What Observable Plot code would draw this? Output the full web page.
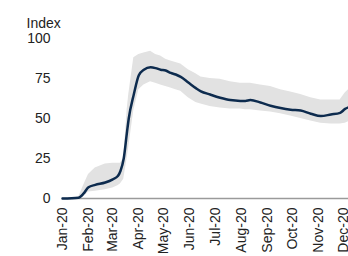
<!DOCTYPE html>
<html>
<head>
<meta charset="utf-8">
<script src="https://cdn.jsdelivr.net/npm/d3@7"></script>
<script src="https://cdn.jsdelivr.net/npm/@observablehq/plot@0.6"></script>
<style>
  html, body { margin: 0; padding: 0; background: #fff; }
  #chart { width: 348px; height: 256px; overflow: hidden; }
</style>
</head>
<body>
<div id="chart"></div>
<script>
const dates = ["2020-01-01","2020-01-20","2020-01-26","2020-02-01","2020-02-09","2020-02-21","2020-03-01","2020-03-07","2020-03-10","2020-03-14","2020-03-18","2020-03-20","2020-03-26","2020-04-01","2020-04-07","2020-04-15","2020-04-21","2020-04-27","2020-05-03","2020-05-09","2020-05-15","2020-05-21","2020-05-30","2020-06-08","2020-06-14","2020-06-25","2020-07-07","2020-07-19","2020-07-31","2020-08-06","2020-08-12","2020-08-24","2020-09-05","2020-09-17","2020-09-29","2020-10-11","2020-10-23","2020-11-04","2020-11-16","2020-11-27","2020-12-03","2020-12-07"];
const index = [0,0.5,3,7,8.5,10,12,14,17,25,42,50,65,77,80.5,82,81.5,80.5,80,78.5,77.5,76,72.5,69,67,65,63,61.5,61,61,61.5,60,58,56.5,55.5,55,53,51.5,52.5,53.5,56,57];
const lower = [0,0,1,4,4.5,5.5,6.5,8,9,12,25,32,55,68,71,73,72,71,70,69,68,67,63,60,59,57.5,56.5,56,56,55.5,55.5,54.7,54,53,51.5,50,48.5,47,46.5,46.5,47,48];
const upper = [0,0.5,8,15,19,21.5,22,22,22,25,55,65,88,90,91,92,90,89,87,86,85,84,80.5,78,76,75,74.5,73,72,72,72,71,70,68,66.5,65,63,61.5,61.5,61.5,66,68];
const yTicks = [0,25,50,75,100];

const data = dates.map((d, i) => ({date: new Date(d + "T00:00:00Z"), v: index[i], lo: lower[i], hi: upper[i]}));
const monthTicks = d3.utcMonths(new Date("2020-01-01T00:00:00Z"), new Date("2020-12-02T00:00:00Z"));

const chart = Plot.plot({
  width: 348,
  height: 256,
  marginLeft: 62,
  marginRight: 0,
  marginTop: 38,
  marginBottom: 58,
  style: {fontFamily: "'Liberation Sans', Arial, sans-serif", fontSize: "14px", color: "#222", background: "#fff"},
  x: {type: "utc", domain: [new Date("2020-01-01T00:00:00Z"), new Date("2020-12-07T00:00:00Z")]},
  y: {domain: [0, 100]},
  marks: [
    Plot.areaY(data, {x: "date", y1: "lo", y2: "hi", fill: "#e2e2e2", curve: "linear"}),
    Plot.ruleY([0], {stroke: "#9a9a9a", strokeWidth: 1.5}),
    Plot.lineY(data, {x: "date", y: "v", stroke: "#0d2b4e", strokeWidth: 2.5, curve: "monotone-x"}),
    Plot.axisY({ticks: yTicks, tickSize: 0, tickPadding: 12, label: null, fontSize: 14}),
    Plot.axisX({ticks: monthTicks, tickFormat: d3.utcFormat("%b-%y"), tickSize: 0, tickPadding: 9, tickRotate: -90, label: null, fontSize: 14}),
    Plot.text(["Index"], {frameAnchor: "top-left", dx: -36, dy: -20, textAnchor: "start", fontSize: 14, fill: "#222"})
  ]
});
document.getElementById("chart").appendChild(chart);
</script>
</body>
</html>
